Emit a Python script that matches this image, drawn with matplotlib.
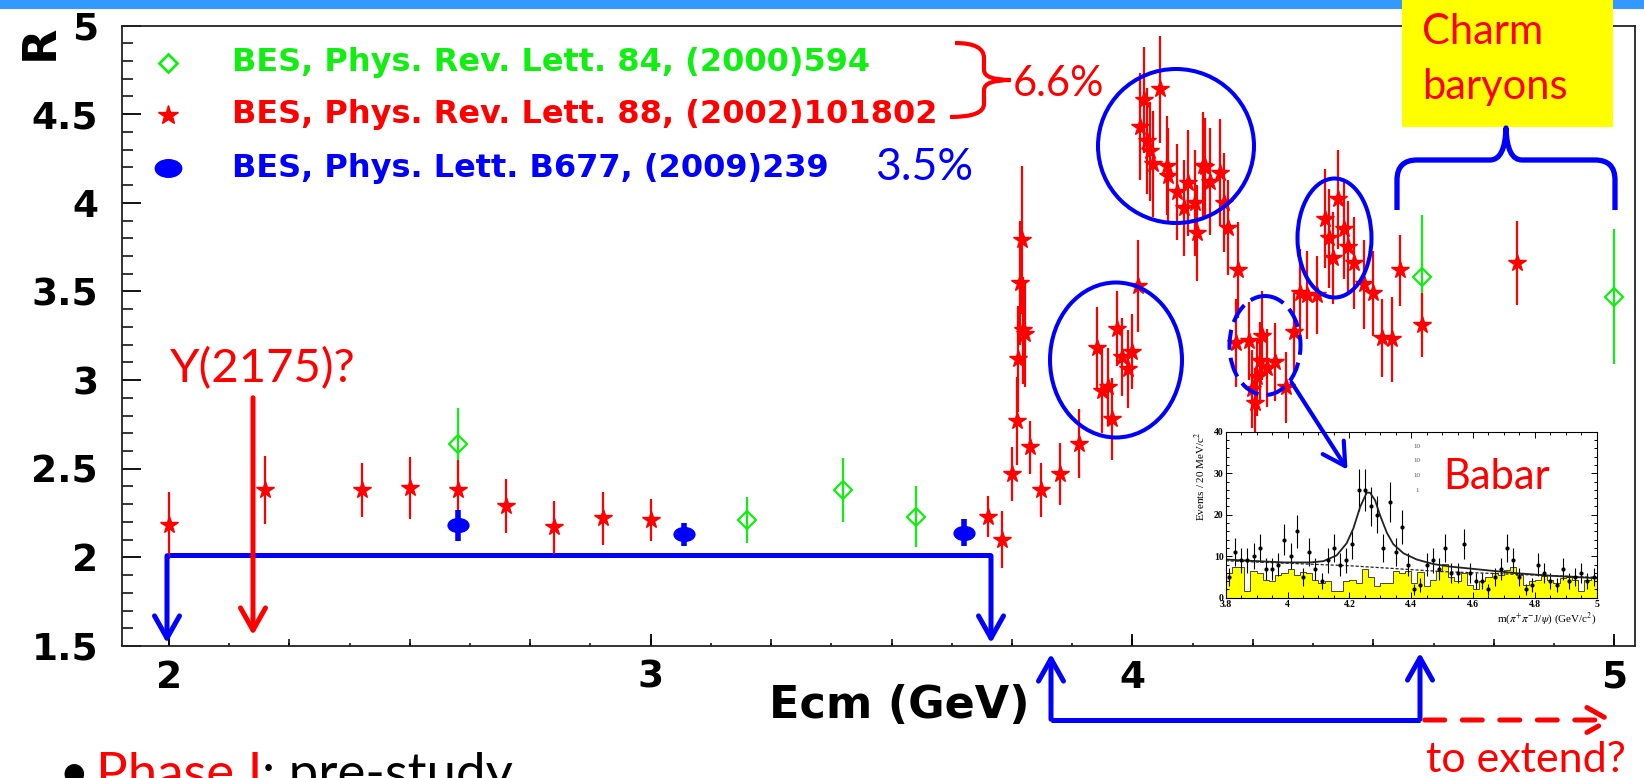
import numpy as np
import matplotlib.pyplot as plt
from matplotlib.patches import Ellipse, Rectangle, FancyArrowPatch, PathPatch
from matplotlib.path import Path
from matplotlib.transforms import Affine2D
from matplotlib.ticker import MultipleLocator, FixedLocator, FuncFormatter

plt.rcParams['mathtext.fontset'] = 'stix'

W, H = 1644, 778

# ---- R values, BES Phys. Rev. Lett. 88 (2002) 101802 (red stars)
red_e = [2.00, 2.20, 2.40, 2.50, 2.60, 2.70, 2.80, 2.90, 3.00,
         3.700, 3.730, 3.750, 3.760, 3.763, 3.766, 3.770, 3.773, 3.776, 3.787, 3.810, 3.850, 3.889,
         3.926, 3.936, 3.950, 3.957, 3.967, 3.978, 3.990, 4.000, 4.012,
         4.016, 4.023, 4.030, 4.037, 4.043, 4.057, 4.071, 4.074, 4.092, 4.106, 4.116, 4.130, 4.134,
         4.147, 4.151, 4.161, 4.182, 4.189, 4.199, 4.215, 4.220,
         4.241, 4.248, 4.255, 4.258, 4.265, 4.268, 4.279, 4.296, 4.319, 4.336, 4.348, 4.362, 4.383,
         4.400, 4.407, 4.417, 4.427, 4.438, 4.448, 4.459, 4.480, 4.499, 4.518, 4.538, 4.556, 4.600, 4.798]
red_r = [2.18, 2.38, 2.38, 2.39, 2.38, 2.29, 2.17, 2.22, 2.21,
         2.23, 2.10, 2.47, 2.77, 3.12, 3.55, 3.79, 3.28, 3.26, 2.62, 2.38, 2.47, 2.64,
         3.18, 2.94, 2.96, 2.78, 3.29, 3.13, 3.06, 3.16, 3.53,
         4.43, 4.58, 4.35, 4.29, 4.22, 4.64, 4.21, 4.15, 4.06, 3.97, 4.11, 4.00, 3.83,
         4.21, 4.20, 4.12, 4.17, 4.00, 3.86, 3.21, 3.62,
         3.22, 2.95, 2.87, 3.02, 3.11, 3.25, 3.07, 3.10, 2.96, 3.27, 3.49, 3.48, 3.48,
         3.91, 3.80, 3.69, 4.02, 3.85, 3.75, 3.66, 3.54, 3.49, 3.24, 3.23, 3.62, 3.31, 3.66]
red_err = [0.19, 0.19, 0.155, 0.175, 0.17, 0.15, 0.15, 0.15, 0.12,
           0.115, 0.16, 0.15, 0.25, 0.3, 0.35, 0.42, 0.3, 0.3, 0.15, 0.155, 0.175, 0.195,
           0.23, 0.24, 0.22, 0.23, 0.21, 0.22, 0.22, 0.21, 0.26,
           0.3, 0.3, 0.3, 0.28, 0.3, 0.3, 0.28, 0.27, 0.27, 0.27, 0.3, 0.3, 0.27,
           0.3, 0.28, 0.3, 0.3, 0.28, 0.27, 0.25, 0.27,
           0.22, 0.22, 0.2, 0.22, 0.22, 0.25, 0.22, 0.22, 0.2, 0.22, 0.25, 0.25, 0.22,
           0.28, 0.28, 0.26, 0.28, 0.28, 0.26, 0.26, 0.25, 0.24, 0.22, 0.24, 0.2, 0.18, 0.235]

# ---- BES Phys. Rev. Lett. 84 (2000) 594 (green diamonds)
green_e = [2.60, 3.20, 3.40, 3.55, 4.60, 5.00]
green_r = [2.64, 2.21, 2.38, 2.23, 3.58, 3.47]
green_err = [0.20, 0.13, 0.18, 0.17, 0.35, 0.38]

# ---- BES Phys. Lett. B677 (2009) 239 (blue dots)
blue_e = [2.60, 3.07, 3.65]
blue_r = [2.18, 2.13, 2.14]
blue_err = [0.085, 0.066, 0.077]

legend_labels = ['BES, Phys. Rev. Lett. 84, (2000)594',
                 'BES, Phys. Rev. Lett. 88, (2002)101802',
                 'BES, Phys. Lett. B677, (2009)239']

# ---- Babar inset: m(pi+ pi- J/psi), 20 MeV bins
babar_edges = np.linspace(3.8, 5.0, 61)
babar_counts = [5, 11, 9, 9, 10, 12, 7, 7, 8, 14, 10, 16, 5, 11, 7, 4, 9, 12, 8, 9,
                13, 26, 26, 22, 20, 12, 23, 11, 17, 8, 2, 3, 8, 9, 7, 12, 6, 6, 13, 6,
                4, 4, 2, 5, 7, 12, 9, 5, 2, 3, 8, 6, 4, 3, 7, 4, 5, 6, 4, 5]
babar_bkg = [6, 7.5, 7.5, 1.5, 6.4, 6, 4.3, 4, 5.5, 6, 7, 5.5, 6.3, 6, 4.3, 3.6, 4, 1.5, 1.5, 4,
             4.3, 3.5, 7, 5, 2.8, 3.6, 3.6, 6.4, 6, 6.4, 3.6, 6.2, 2.8, 4.3, 6.4, 8.2, 5, 4, 6, 3,
             2, 4, 5, 6, 5.5, 6.7, 7.5, 5.5, 3, 4, 4.3, 5.2, 4.3, 3.6, 4.7, 5, 4.3, 1.5, 4.3, 5]
fit_m = [3.80, 3.879, 3.987, 4.073, 4.116, 4.159, 4.191, 4.213, 4.235, 4.256, 4.267, 4.283,
         4.299, 4.321, 4.342, 4.375, 4.418, 4.472, 4.526, 4.633, 4.741, 4.849, 5.00]
fit_y = [9.2, 8.9, 8.5, 8.5, 8.8, 10.2, 13.1, 16.7, 21.9, 25.3, 25.3, 23.5,
         19.9, 15.7, 12.9, 10.7, 9.2, 8.1, 7.5, 6.7, 5.9, 5.3, 4.7]
bkgfit_m = [3.80, 4.20, 4.50, 5.00]
bkgfit_y = [8.9, 7.7, 6.3, 4.9]

RED, GREEN, BLUE = '#ff0000', '#11ee11', '#0000ff'
SLIDE_FONT = 'Lato'

fig = plt.figure(figsize=(W / 100, H / 100), dpi=100)
# pixel coordinates of the slide (origin top-left)
PX = Affine2D().scale(1 / W, -1 / H).translate(0, 1) + fig.transFigure

# top bar of the slide
fig.add_artist(Rectangle((0, 0), W, 9, transform=PX, color='#3399ff', lw=0))

# ---------------- main R plot
ax = fig.add_axes([121.7 / W, 1 - 646 / H, (1635 - 121.7) / W, (646 - 25.5) / H])
ax.set_xlim(1.902, 5.043)
ax.set_ylim(1.5, 5.0)

ellipse_marker = Path.unit_circle().transformed(Affine2D().scale(1.5, 1.0))

ax.errorbar(green_e, green_r, yerr=green_err, fmt='D', ms=9, mfc='none', mec=GREEN,
            mew=1.6, color=GREEN, elinewidth=1.6, capsize=0, zorder=2)
ax.errorbar(red_e, red_r, yerr=red_err, fmt='*', ms=13, color=RED, mec=RED,
            elinewidth=1.6, capsize=0, zorder=3)
ax.errorbar(blue_e, blue_r, yerr=blue_err, fmt='none', color=BLUE, elinewidth=4, capsize=0, zorder=4)
ax.plot(blue_e, blue_r, ls='none', marker=ellipse_marker, ms=15, color=BLUE, zorder=5)

fmt = FuncFormatter(lambda v, p: f'{v:g}')
ax.xaxis.set_major_locator(FixedLocator([2, 3, 4, 5]))
ax.xaxis.set_minor_locator(MultipleLocator(0.125))
ax.xaxis.set_major_formatter(fmt)
ax.yaxis.set_major_locator(MultipleLocator(0.5))
ax.yaxis.set_minor_locator(MultipleLocator(0.1))
ax.yaxis.set_major_formatter(fmt)
ax.tick_params(axis='x', which='major', direction='in', length=9, width=1.3, pad=10, labelsize=27)
ax.tick_params(axis='x', which='minor', direction='in', length=2.5, width=1.1)
ax.tick_params(axis='y', which='major', direction='in', length=14, width=1.3, pad=17, labelsize=27)
ax.tick_params(axis='y', which='minor', direction='in', length=8, width=1.1)
for lbl in ax.get_xticklabels() + ax.get_yticklabels():
    lbl.set_fontweight('bold')
sec = ax.secondary_xaxis('bottom')
sec.xaxis.set_major_locator(MultipleLocator(0.25))
sec.tick_params(direction='in', length=5, width=1.1, labelbottom=False)
sec.spines['bottom'].set_visible(False)
for s in ax.spines.values():
    s.set_linewidth(1.3)
    s.set_color('#222222')

fig.text(1030, 706, 'Ecm (GeV)', transform=PX, ha='right', va='center',
         fontsize=32, fontweight='bold')
fig.text(40, 42, 'R', transform=PX, ha='center', va='center', rotation=90,
         fontsize=33, fontweight='bold')

# legend
leg_rows = [63, 115, 168]
leg_style = [dict(marker='D', ms=9, mfc='none', mec=GREEN, mew=2),
             dict(marker='*', ms=15, color=RED),
             dict(marker=ellipse_marker, ms=19, color=BLUE)]
for y, st, lab, col in zip(leg_rows, leg_style, legend_labels, [GREEN, RED, BLUE]):
    ax.plot([168], [y], transform=PX, ls='none', **st)
    fig.text(232, y, lab, transform=PX, color=col, fontsize=23, fontweight='bold', va='center')

# ---------------- Babar inset
ax2 = fig.add_axes([1225.7 / W, 1 - 597.7 / H, (1596.7 - 1225.7) / W, (597.7 - 431.7) / H])
ax2.set_xlim(3.8, 5.0)
ax2.set_ylim(0, 40)
ax2.stairs(babar_bkg, babar_edges, fill=True, facecolor='#ffff00', edgecolor='k', lw=0.5)
ax2.errorbar(0.5 * (babar_edges[1:] + babar_edges[:-1]), babar_counts, yerr=np.sqrt(babar_counts),
             fmt='o', ms=2, color='k', elinewidth=0.8, capsize=0)
ax2.plot(fit_m, fit_y, color='#222222', lw=1.3)
ax2.plot(bkgfit_m, bkgfit_y, color='#222222', lw=0.9, ls=(0, (2.5, 1.5)))
ax2.xaxis.set_major_locator(MultipleLocator(0.2))
ax2.xaxis.set_minor_locator(MultipleLocator(0.05))
ax2.yaxis.set_major_locator(MultipleLocator(10))
ax2.yaxis.set_minor_locator(MultipleLocator(2))
ax2.xaxis.set_major_formatter(fmt)
ax2.yaxis.set_major_formatter(fmt)
ax2.tick_params(which='both', direction='in', top=True, right=True, labelsize=7, pad=1.5, width=0.7)
ax2.tick_params(which='major', length=4)
ax2.tick_params(which='minor', length=2)
for lbl in ax2.get_xticklabels() + ax2.get_yticklabels():
    lbl.set_fontfamily('Liberation Serif')
    lbl.set_fontweight('bold')
for s in ax2.spines.values():
    s.set_linewidth(0.8)
ax2.set_xlabel(r'm($\pi^{+}\pi^{-}$J/$\psi$) (GeV/c$^{2}$)', loc='right', fontsize=8,
               fontfamily='Liberation Serif', labelpad=1)
ax2.set_ylabel('Events / 20 MeV/c$^2$', loc='top', fontsize=8, fontfamily='Liberation Serif', labelpad=4)
for yy, s in zip([447, 461, 476, 491], ['10', '10', '10', '1']):
    fig.text(1417, yy, s, transform=PX, fontsize=5, color='#555555', ha='center', va='center',
             fontfamily='Liberation Serif')

# ---------------- slide annotations (pixel coordinates)
def add_text(x, y, s, color, size=30, **kw):
    fig.text(x, y, s, transform=PX, color=color, fontsize=size, fontfamily=SLIDE_FONT, **kw)

def arrow(p0, p1, color, lw=3.6, ls='-', head=(0.8, 0.45)):
    fig.add_artist(FancyArrowPatch(p0, p1, transform=PX, color=color, lw=lw, linestyle=ls,
                                   arrowstyle=f'->,head_length={head[0]},head_width={head[1]}',
                                   mutation_scale=20, capstyle='round', joinstyle='round'))

def seg(xs, ys, color, lw=3.6, **kw):
    ax.plot(xs, ys, transform=PX, color=color, lw=lw, clip_on=False, solid_capstyle='butt', **kw)

# red brace + 6.6%
brace_r = Path([(955, 43), (984, 43), (984, 58), (984, 70), (984, 80), (1011, 80),
                (984, 80), (984, 90), (984, 104), (984, 117), (950, 117)],
               [Path.MOVETO, Path.CURVE3, Path.CURVE3, Path.LINETO, Path.CURVE3, Path.CURVE3,
                Path.CURVE3, Path.CURVE3, Path.LINETO, Path.CURVE3, Path.CURVE3])
fig.add_artist(PathPatch(brace_r, transform=PX, fill=False, ec=RED, lw=3))
add_text(1013, 84, '6.6%', RED, va='center')
add_text(875, 168, '3.5%', BLUE, size=32, va='center')

# Y(2175)
add_text(170, 369, 'Y(2175)?', RED, size=34, va='center')
arrow((253, 395), (253, 638), RED)

# phase I energy range
seg([167, 991], [555, 555], BLUE)
arrow((167, 553), (167, 646), BLUE)
arrow((991, 553), (991, 646), BLUE)

# range below the axis
seg([1051, 1420], [720, 720], BLUE)
arrow((1051, 722), (1051, 651), BLUE)
arrow((1420, 722), (1420, 650), BLUE)
arrow((1422, 720), (1617, 720), RED, ls=(0, (4, 3.5)))
add_text(1426, 772, 'to extend?', RED, size=31, va='baseline')

# circles around structures
for (cx, cy, w, h, ls) in [(1176, 146, 156, 154, '-'), (1116, 360, 132, 155, '-'),
                           (1265, 345.5, 71, 99, (0, (5, 2))), (1334.5, 238, 74, 119, '-')]:
    fig.add_artist(Ellipse((cx, cy), w, h, transform=PX, fill=False, ec=BLUE, lw=2.9, ls=ls))
arrow((1290, 380), (1349, 472), BLUE, lw=3)

# inset label
add_text(1497, 477, 'Babar', RED, ha='center', va='center')

# charm baryons box + brace
fig.add_artist(Rectangle((1402, 0), 211, 127, transform=PX, color='#ffff00', lw=0))
add_text(1422, 32, 'Charm', RED, va='center')
add_text(1422, 87, 'baryons', RED, va='center')
brace_b = Path([(1397, 210), (1397, 180), (1397, 160), (1417, 160), (1490, 160),
                (1505, 160), (1506, 128), (1507, 160), (1522, 160), (1595, 160),
                (1615, 160), (1615, 180), (1615, 210)],
               [Path.MOVETO, Path.LINETO, Path.CURVE3, Path.CURVE3, Path.LINETO,
                Path.CURVE3, Path.CURVE3, Path.CURVE3, Path.CURVE3, Path.LINETO,
                Path.CURVE3, Path.CURVE3, Path.LINETO])
fig.add_artist(PathPatch(brace_b, transform=PX, fill=False, ec=BLUE, lw=3.8, joinstyle='round'))

# bottom bullet text
add_text(58, 790, '•', 'black', size=38, va='baseline')
add_text(96, 790, 'Phase I', RED, size=38, va='baseline')
add_text(262, 790, ': pre-study', 'black', size=38, va='baseline')

fig.savefig('out.png', dpi=100)
